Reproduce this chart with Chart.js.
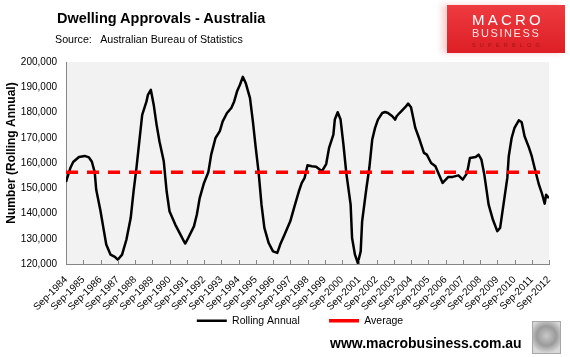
<!DOCTYPE html>
<html><head><meta charset="utf-8">
<script src="https://cdn.jsdelivr.net/npm/chart.js@4.4.1/dist/chart.umd.min.js"></script>
<style>
html,body{margin:0;padding:0;width:570px;height:357px;overflow:hidden;background:#fff;font-family:"Liberation Sans",Arial,sans-serif;}
#wrap{position:absolute;left:0;top:0;width:600px;height:357px;}
#title{position:absolute;left:57px;top:11px;font-weight:bold;font-size:14.5px;line-height:1;color:#000;white-space:nowrap;}
#source{position:absolute;left:55px;top:34px;font-size:10.7px;line-height:1;color:#000;white-space:pre;}
#logo{position:absolute;left:447px;top:5px;width:118px;height:48px;background:linear-gradient(to bottom,#ee3b40,#dc1f25);box-shadow:-5px 0 6px rgba(235,60,65,0.25);overflow:hidden;}
#logo div{position:absolute;white-space:nowrap;line-height:1;}
#l1{left:25px;top:6.6px;font-size:15px;letter-spacing:3.2px;color:#fff;}
#l2{left:25px;top:22.9px;font-size:11px;letter-spacing:1.6px;color:#ffe3e3;}
#l3{left:25px;top:37.5px;font-size:5.5px;letter-spacing:4.2px;color:#a3151b;}
#url{position:absolute;left:330px;top:336px;font-weight:bold;font-size:14px;line-height:1;color:#000;white-space:nowrap;}
#wolf{position:absolute;left:532px;top:321px;width:27px;height:31px;border:1px solid #a8a8a8;background:radial-gradient(circle at 50% 45%,#c9c9c9 0,#9a9a9a 45%,#d8d8d8 80%);}
</style></head>
<body>
<div id="wrap"><canvas id="c" width="600" height="357"></canvas></div>
<div id="title">Dwelling Approvals - Australia</div>
<div id="source">Source:   Australian Bureau of Statistics</div>
<div id="logo"><div id="l1">MACRO</div><div id="l2">BUSINESS</div><div id="l3">SUPERBLOG</div></div>
<div id="url">www.macrobusiness.com.au</div>
<div id="wolf"></div>
<script>
const tickLabels = ['Sep-1984','Sep-1985','Sep-1986','Sep-1987','Sep-1988','Sep-1989','Sep-1990','Sep-1991','Sep-1992','Sep-1993','Sep-1994','Sep-1995','Sep-1996','Sep-1997','Sep-1998','Sep-1999','Sep-2000','Sep-2001','Sep-2002','Sep-2003','Sep-2004','Sep-2005','Sep-2006','Sep-2007','Sep-2008','Sep-2009','Sep-2010','Sep-2011','Sep-2012'];
// months since Sep-1984
const monthIdx = [0,3,5,9,13,16,18,20,21,24,26,28,31,34,36,39,42,45,47,49,51,53,56,57,59,61,63,65,68,70,72,76,79,82,83,85,89,91,93,96,99,101,104,107,109,112,115,117,119,121,123,125,128,130,132,134,136,138,141,144,147,149,152,156,159,162,164,166,168,171,174,178,181,183,186,187,189,191,193,195,198,199,201,203,205,206,209,211,213,215,217,220,222,224,227,229,230,232,236,238,240,243,246,249,251,254,257,259,262,266,269,273,276,279,281,285,287,289,291,294,297,300,302,304,307,308,310,312,315,317,319,322,324,326,329,331,333,334,336];
const rollingAnnual = [152500,158000,160400,162400,162800,162200,160500,156300,149500,141000,134300,127700,123700,122800,121700,123700,129600,138200,148800,158000,168600,179100,184400,187000,189000,183100,175200,168600,160700,148800,140900,135600,132300,129000,128100,130300,134900,139500,146100,152100,156300,163300,169900,172600,176500,179800,181800,184400,188400,191000,194100,191700,185700,176500,166000,156300,143500,134300,128300,125000,124400,127700,131600,136900,142900,148800,152100,154100,159100,158700,158500,156700,159600,166000,171200,177200,180100,177200,167300,156000,143500,130300,123700,120400,125000,136900,150100,158000,169200,173900,177200,179800,180200,179800,178500,177200,178500,179800,182100,183500,182100,173900,169200,164000,163300,160000,158700,156000,152100,154500,154500,155100,153400,156000,162000,162400,163300,161300,155400,143500,137500,133000,134300,142200,154100,162700,169900,173900,176900,176100,170600,166200,162700,158000,151400,148100,143900,147400,146100];
const averageValue = 156300;
const axisStartMonth = 0;
const axisEndMonth = 336;

function fmt(v){ return String(v).replace(/\B(?=(\d{3})+(?!\d))/g, ','); }

const plotBg = {id:'plotBg', beforeDraw(chart){const {ctx, chartArea:a}=chart; ctx.save(); ctx.fillStyle='#F2F2F2'; ctx.fillRect(a.left,a.top,a.right-a.left,a.bottom-a.top); ctx.restore();}};
const innerTicks = {id:'innerTicks', afterDraw(chart){const xs=chart.scales.x; const {ctx}=chart; const b=chart.chartArea.bottom; ctx.save(); ctx.strokeStyle='#868686'; ctx.lineWidth=1; ctx.beginPath(); xs.ticks.forEach(t=>{const px=Math.round(xs.getPixelForValue(t.value))+0.5; ctx.moveTo(px,b); ctx.lineTo(px,b-4);}); ctx.stroke(); ctx.restore();}};

const PLOT_BOTTOM = 264, PB = 21;
const legendGap = '         ';
const chart = new Chart(document.getElementById('c'), {
  type:'line',
  data:{datasets:[
    {label:'Rolling Annual', data: monthIdx.map((m,i)=>({x:m,y:rollingAnnual[i]})), borderColor:'#000', backgroundColor:'#000', borderWidth:2.5, pointRadius:0, tension:0, borderJoinStyle:'round', order:1},
    {label:'Average', data:[{x:axisStartMonth,y:averageValue},{x:axisEndMonth,y:averageValue}], borderColor:'#FF0000', backgroundColor:'#FF0000', borderWidth:3.5, borderDash:[12,9], pointRadius:0, order:0}
  ]},
  options:{
    responsive:false, animation:false, devicePixelRatio:1,
    layout:{padding:{left:0,right:0,top:62,bottom:PB}},
    plugins:{
      tooltip:{enabled:false},
      legend:{position:'bottom', align:'center', labels:{usePointStyle:true, pointStyle:'line', pointStyleWidth:30, color:'#000', font:{family:'Liberation Sans', size:10.5}, padding:3,
        sort:(a,b)=>a.datasetIndex-b.datasetIndex,
        generateLabels(ch){ const items = Chart.defaults.plugins.legend.labels.generateLabels(ch); items.forEach(it=>{ if(it.datasetIndex===0) it.text = it.text + legendGap; }); return items; }}}
    },
    scales:{
      x:{type:'linear', min:axisStartMonth, max:axisEndMonth, grid:{display:false, drawTicks:false}, border:{display:true,color:'#868686',width:1},
         ticks:{stepSize:12, autoSkip:false, maxRotation:45, minRotation:45, padding:10, color:'#000', font:{family:'Liberation Sans', size:10}, callback:(v,i)=>tickLabels[i]},
         afterFit(s){ const lh = s.chart.legend ? s.chart.legend.height : 0; s.height = 357 - PB - lh - PLOT_BOTTOM; }},
      y:{min:120000, max:200000, grid:{display:false, drawTicks:false}, border:{display:true,color:'#868686',width:1},
         ticks:{stepSize:10000, padding:9, color:'#000', font:{family:'Liberation Sans', size:10}, callback:v=>fmt(v)},
         title:{display:true, text:'      Number (Rolling Annual)', color:'#000', font:{family:'Liberation Sans', size:12, weight:'bold'}, padding:{top:4,bottom:0}},
         afterFit(s){ s.width = 66; }},
      y2:{position:'right', display:true, min:0, max:1, grid:{display:false, drawTicks:false}, border:{display:false}, ticks:{display:false}, afterFit(s){ s.width = 51; }}
    }
  },
  plugins:[plotBg, innerTicks]
});
</script>
</body></html>
